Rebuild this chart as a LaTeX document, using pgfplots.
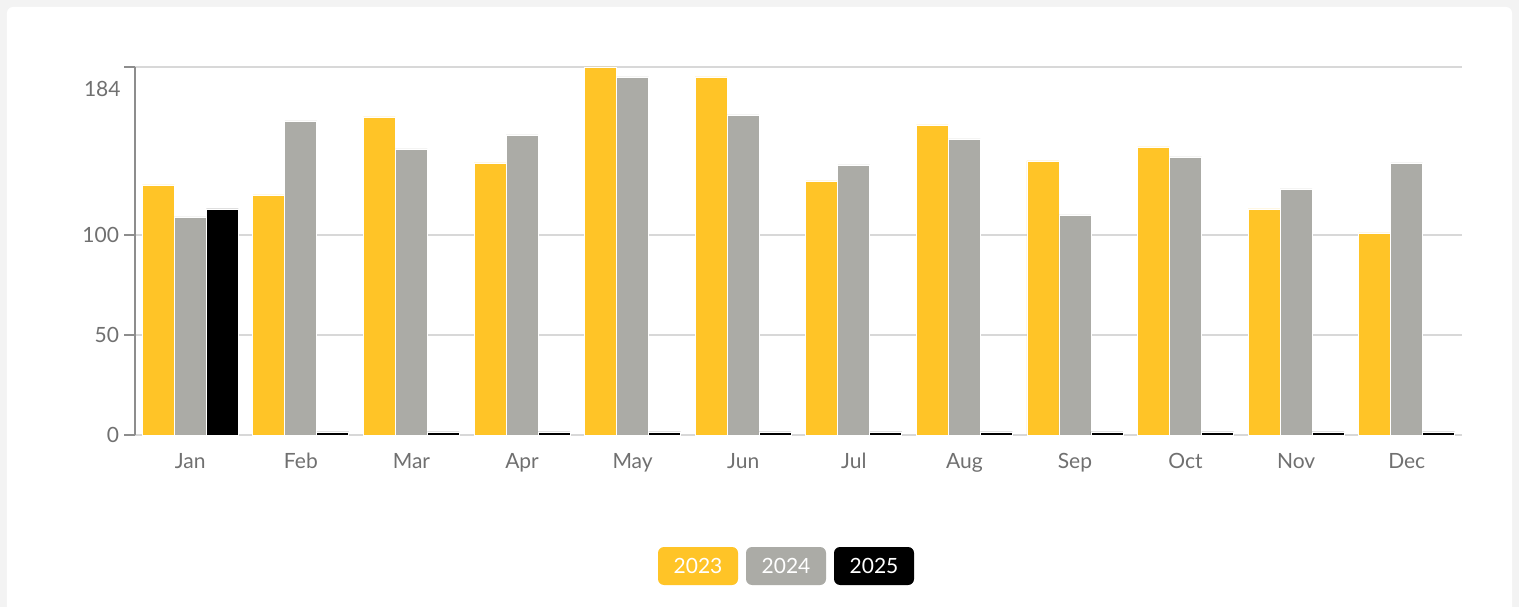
\documentclass[border=0pt]{standalone}
\usepackage{fontspec}
\setmainfont{Lato}
\usepackage{pgfplots}
\usepackage{pgfplotstable}
\pgfplotsset{compat=1.18}
\definecolor{yel}{HTML}{FFC427}
\definecolor{gry}{HTML}{ABABA6}
\definecolor{txt}{HTML}{707070}
\definecolor{grd}{HTML}{D8D8D8}
\definecolor{bgc}{HTML}{F3F3F3}
\pgfplotstableread{
x a b c
0 125 109 113
1 120 157 1.5
2 159 143 1.5
3 136 150 1.5
4 184 179 1.5
5 179 160 1.5
6 127 135 1.5
7 155 148 1.5
8 137 110 1.5
9 144 139 1.5
10 113 123 1.5
11 101 136 1.5
}\datatab
\begin{document}
\begin{tikzpicture}
\fill[bgc] (-67.5pt,-86pt) rectangle (692pt,217.5pt);
\fill[white, rounded corners=3pt] (-64pt,-90pt) rectangle (688.5pt,214pt);
\useasboundingbox (-67.5pt,-86pt) rectangle (692pt,217.5pt);
\begin{axis}[
  at={(0,0)}, anchor=south west,
  scale only axis, width=663.5pt, height=184pt,
  xmin=-0.5, xmax=11.5, ymin=0, ymax=184,
  ybar=0pt, bar width=16pt,
  axis x line*=bottom,
  x axis line style={draw=none},
  axis y line*=left,
  y axis line style={draw=txt!80, line width=0.6pt},
  xtick=data, xticklabels={Jan,Feb,Mar,Apr,May,Jun,Jul,Aug,Sep,Oct,Nov,Dec},
  xtick style={draw=none},
  xticklabel style={yshift=0pt},
  ytick={0,50,100,184}, yticklabels={0,50,100,{}},
  ymajorgrids, grid style={draw=grd, line width=0.6pt},
  tick align=outside, major tick length=5.5pt,
  ytick style={draw=txt!80, line width=0.6pt},
  tick label style={font=\fontsize{10.5}{12}\selectfont, text=txt},
  yticklabel style={xshift=1pt},
  /pgf/number format/assume math mode=true,
  clip=false,
]
\addplot[fill=yel, draw=white, line width=0.4pt] table[x=x,y=a]{\datatab};
\addplot[fill=gry, draw=white, line width=0.4pt] table[x=x,y=b]{\datatab};
\addplot[fill=black, draw=white, line width=0.4pt] table[x=x,y=c]{\datatab};
\node[anchor=east, font=\fontsize{10.5}{12}\selectfont, text=txt, inner sep=0pt] at (axis cs:-0.5,173) [xshift=-7pt] {184};
\end{axis}
\begin{scope}[every node/.style={font=\fontsize{10.5}{12}\selectfont, text=white, minimum width=40pt, minimum height=19pt, rounded corners=3pt, inner sep=0pt}]
\node[fill=yel] at (281.5pt,-65.5pt) {2023};
\node[fill=gry] at (325.5pt,-65.5pt) {2024};
\node[fill=black] at (369.5pt,-65.5pt) {2025};
\end{scope}
\end{tikzpicture}
\end{document}
